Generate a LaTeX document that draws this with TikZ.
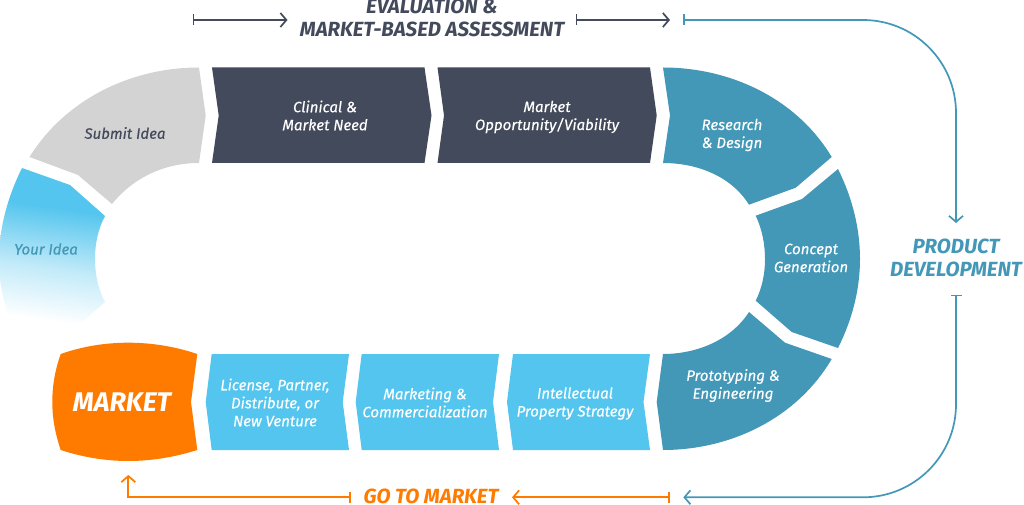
\documentclass[tikz,border=0pt]{standalone}
\usepackage{fontspec}
\setmainfont{Fira Sans}[ItalicFeatures={FakeBold=0.35}]
\usepackage{tikz}
\usetikzlibrary{math, arrows.meta}

\definecolor{slatedark}{HTML}{434A5B}
\definecolor{ideagray}{HTML}{D3D3D3}
\definecolor{devteal}{HTML}{4397B7}
\definecolor{skyblue}{HTML}{54C5EE}
\definecolor{marketorange}{HTML}{FF7B00}

\pgfdeclareverticalshading{ideafade}{100bp}{color(0bp)=(white); color(32bp)=(white); color(47bp)=(skyblue!35!white); color(65bp)=(skyblue); color(100bp)=(skyblue)}

\tikzset{
  steplabel/.style={text=white, align=center, font=\itshape\fontsize{15}{18}\selectfont},
  phaselabel/.style={align=center, font=\bfseries\upshape\fontsize{20.5}{23}\selectfont\itshape},
  phaseline/.style={line width=1.7pt, {Bar[width=11pt,length=1.7pt]}-{Straight Barb[length=6pt,width=14pt]}}
}

\begin{document}
\begin{tikzpicture}[x=1pt, y=-1pt]
  \tikzmath{\dtop = 67.5;}
  \tikzmath{\dmid = 115.5;}
  \tikzmath{\dbot = 163;}
  \tikzmath{\ltop = 354;}
  \tikzmath{\lmid = 402;}
  \tikzmath{\lbot = 450;}

  \useasboundingbox (0, 0) rectangle (1024, 505);

  % your idea
  \shade[shading=ideafade, shading angle=-8] (22, 168) -- (70, 185) -- (105, 216)
    .. controls (98, 229) and (95, 244) .. (95, 259)
    .. controls (95, 274) and (98, 289) .. (105, 302)
    -- (70, 333) -- (22, 350)
    .. controls (8, 322) and (-1, 290) .. (-1, 259)
    .. controls (-1, 228) and (8, 196) .. (22, 168) -- cycle;

  % submit idea
  \fill[ideagray] (29.5, 157) .. controls (65, 100) and (130, \dtop) .. (199, \dtop)
    -- (205.7, \dmid) -- (199, \dbot)
    .. controls (165, \dbot) and (134, 177) .. (112, 204)
    -- (78, 175) -- cycle;

  % evaluation boxes
  \fill[slatedark] (212, \dtop) -- (424.5, \dtop) -- (431.5, \dmid) -- (424.5, \dbot)
    -- (212, \dbot) -- (218.7, \dmid) -- cycle;
  \fill[slatedark] (437.5, \dtop) -- (650, \dtop) -- (656.7, \dmid) -- (650, \dbot)
    -- (437.5, \dbot) -- (444, \dmid) -- cycle;

  % research and design
  \fill[devteal] (663, \dtop) .. controls (731, \dtop) and (797, 99) .. (831.7, 157)
    -- (795.7, 187.7) -- (749, 204.7)
    .. controls (731, 176) and (697, \dbot) .. (663, \dbot)
    -- (670, \dmid) -- cycle;

  % concept generation
  \fill[devteal] (838, 169) .. controls (852, 197) and (860, 228) .. (860, 259)
    .. controls (860, 290) and (852, 320) .. (838, 348)
    -- (791.7, 332) -- (755.7, 300.7)
    .. controls (762, 288) and (765, 274) .. (765, 259)
    .. controls (765, 244) and (762, 229) .. (755.7, 215.7)
    -- (802, 199) -- cycle;

  % prototyping and engineering
  \fill[devteal] (663, \lbot) .. controls (731, \lbot) and (797, 418) .. (831.7, 359)
    -- (785, 342.7) -- (749, 312)
    .. controls (731, 340) and (697, \ltop) .. (663, \ltop)
    -- (656.7, \lmid) -- cycle;

  % go to market boxes
  \fill[skyblue] (211.7, \ltop) -- (349, \ltop) -- (342.7, \lmid) -- (349, \lbot)
    -- (211.7, \lbot) -- (205.7, \lmid) -- cycle;
  \fill[skyblue] (361.7, \ltop) -- (499, \ltop) -- (493, \lmid) -- (499, \lbot)
    -- (361.7, \lbot) -- (355.7, \lmid) -- cycle;
  \fill[skyblue] (513, \ltop) -- (650, \ltop) -- (643.5, \lmid) -- (650, \lbot)
    -- (513, \lbot) -- (507, \lmid) -- cycle;

  % market
  \fill[marketorange] (60.7, \ltop) .. controls (82, 346.5) and (105, 342.7) .. (128, 342.7)
    .. controls (152, 342.7) and (175, 346.5) .. (197.3, \ltop)
    -- (191, \lmid) -- (197.3, \lbot)
    .. controls (175, 457) and (152, 461) .. (128, 461)
    .. controls (105, 461) and (82, 457) .. (60.7, \lbot)
    .. controls (55, 433) and (52.3, 418) .. (52.3, \lmid)
    .. controls (52.3, 386) and (55, 370) .. (60.7, \ltop) -- cycle;

  % step labels
  \node[steplabel, text=slatedark] (submit) at (125, 133) {Submit Idea};
  \node[steplabel, text=devteal] (youridea) at (46, 249) {Your Idea};
  \node[steplabel] (clinical) at (325, 115.5) {Clinical \&\\Market Need};
  \node[steplabel] (viability) at (547, 117) {Market\\Opportunity/Viability};
  \node[steplabel] (research) at (732, 135) {Research\\\& Design};
  \node[steplabel] (concept) at (811, 258) {Concept\\Generation};
  \node[steplabel] (prototype) at (733, 385.5) {Prototyping \&\\Engineering};
  \node[steplabel] (license) at (275, 402.5) {License, Partner,\\Distribute, or\\New Venture};
  \node[steplabel] (marketing) at (425, 402.5) {Marketing \&\\Commercialization};
  \node[steplabel] (property) at (575, 403.5) {Intellectual\\Property Strategy};
  \node[text=white, font=\bfseries\itshape\fontsize{27}{30}\selectfont] (market) at (122, 402) {MARKET};

  % phase labels
  \node[phaselabel, text=slatedark] (evaluation) at (432, 18) {EVALUATION \&\\MARKET-BASED ASSESSMENT};
  \node[phaselabel, text=devteal] (product) at (956, 258) {PRODUCT\\DEVELOPMENT};
  \node[phaselabel, text=marketorange] (gotomarket) at (431, 496) {GO TO MARKET};

  % phase connectors
  \coordinate (evalA) at (192.7, 20);
  \coordinate (evalB) at (287.5, 20);
  \coordinate (evalC) at (575.7, 20);
  \coordinate (evalD) at (670, 20);
  \draw[phaseline, slatedark] (evalA) -- (evalB);
  \draw[phaseline, slatedark] (evalC) -- (evalD);

  \coordinate (devA) at (683.3, 20);
  \coordinate (devB) at (956, 20);
  \coordinate (devC) at (956, 223);
  \coordinate (devD) at (956, 294.7);
  \coordinate (devE) at (956, 497.3);
  \coordinate (devF) at (683.3, 497.3);
  \draw[phaseline, devteal, rounded corners=93pt] (devA) -- (devB) -- (devC);
  \draw[phaseline, devteal, rounded corners=93pt] (devD) -- (devE) -- (devF);

  \coordinate (goA) at (670, 497.3);
  \coordinate (goB) at (512, 497.3);
  \coordinate (goC) at (351, 497.3);
  \coordinate (goD) at (128.3, 497.3);
  \coordinate (goE) at (128.3, 475);
  \draw[phaseline, marketorange] (goA) -- (goB);
  \draw[phaseline, marketorange] (goC) -- (goD) -- (goE);
\end{tikzpicture}
\end{document}
